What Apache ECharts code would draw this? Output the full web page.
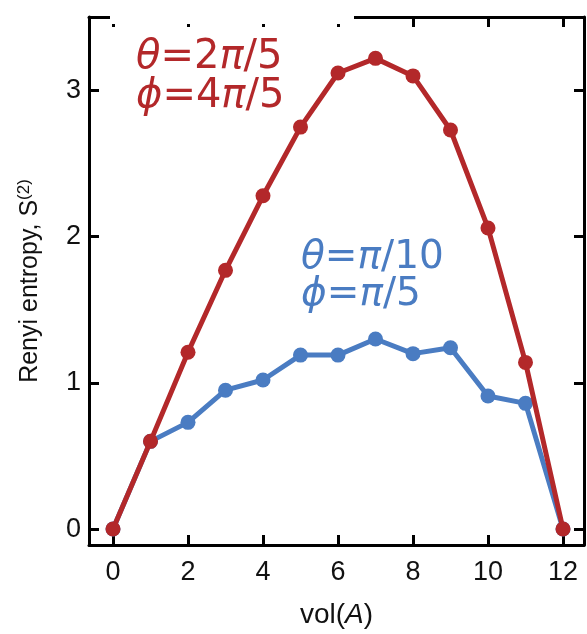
<!DOCTYPE html>
<html>
<head>
<meta charset="utf-8">
<script src="https://cdn.jsdelivr.net/npm/echarts@6/dist/echarts.min.js"></script>
<style>
  html, body { margin: 0; padding: 0; background: #fff; }
  #chart { width: 587px; height: 634px; }
</style>
</head>
<body>
<div id="chart"></div>
<script>
// vol(A) values and entropies
const vols = [0, 1, 2, 3, 4, 5, 6, 7, 8, 9, 10, 11, 12]
const redVals = [0, 0.60, 1.21, 1.77, 2.28, 2.75, 3.12, 3.22, 3.10, 2.73, 2.06, 1.14, 0]
const blueVals = [0, 0.60, 0.73, 0.95, 1.02, 1.19, 1.19, 1.30, 1.20, 1.24, 0.91, 0.86, 0]
const xTicks = [0, 2, 4, 6, 8, 10, 12]
const yTicks = [0, 1, 2, 3]

const red = '#b3282a'
const blue = '#4a7cc2'
const font = '"Liberation Sans", Arial, sans-serif'

let myChart = echarts.init(document.getElementById('chart'))

function pairs(vals) {
  return vols.map((v, i) => [v, vals[i]])
}

const axisLine = { show: true, onZero: false, lineStyle: { color: '#000', width: 3 } }
const tick = (vals) => ({ show: true, inside: true, length: 10, lineStyle: { color: '#000', width: 3 }, customValues: vals })

const options = {
  animation: false,
  grid: {
    left: 89,
    right: 3,
    top: 17,
    bottom: 86,
    show: false
  },
  xAxis: [
    {
      type: 'value',
      position: 'bottom',
      min: -0.64,
      max: 12.56,
      axisLine: axisLine,
      splitLine: { show: false },
      axisTick: tick(xTicks),
      axisLabel: { customValues: xTicks, fontSize: 27, color: '#111', fontFamily: font, margin: 14 },
      name: '{n|vol(}{i|A}{n|)}',
      nameLocation: 'middle',
      nameGap: 56,
      nameTextStyle: {
        rich: {
          n: { fontSize: 28, fontFamily: font, color: '#111' },
          i: { fontSize: 28, fontFamily: font, color: '#111', fontStyle: 'italic' }
        }
      }
    },
    {
      type: 'value',
      position: 'top',
      min: -0.64,
      max: 12.56,
      axisLine: axisLine,
      splitLine: { show: false },
      axisTick: tick(xTicks),
      axisLabel: { show: false }
    }
  ],
  yAxis: [
    {
      type: 'value',
      position: 'left',
      min: -0.109,
      max: 3.503,
      axisLine: axisLine,
      splitLine: { show: false },
      axisTick: tick(yTicks),
      axisLabel: { customValues: yTicks, fontSize: 27, color: '#111', fontFamily: font, margin: 8 },
      name: '{n|Renyi entropy, }{n|S}{s|(2)}',
      nameLocation: 'middle',
      nameRotate: 90,
      nameGap: 44,
      nameTextStyle: {
        rich: {
          n: { fontSize: 25, fontFamily: font, color: '#111' },
          s: { fontSize: 17, fontFamily: font, color: '#111', verticalAlign: 'top', padding: [0, 0, 12, 0] }
        }
      }
    },
    {
      type: 'value',
      position: 'right',
      min: -0.109,
      max: 3.503,
      axisLine: axisLine,
      splitLine: { show: false },
      axisTick: tick(yTicks),
      axisLabel: { show: false }
    }
  ],
  graphic: [
    // gap in the top frame behind the red label
    { type: 'rect', shape: { x: 110, y: 10, width: 244, height: 14 }, style: { fill: '#fff' }, z: 200 },
    {
      type: 'text', left: 136, top: 38, z: 210,
      style: {
        text: '{g|θ}{t|=2}{g|π}{t|/5}\n{g|ϕ}{t|=4}{g|π}{t|/5}',
        fill: red,
        rich: {
          t: { fontSize: 40, fontFamily: '"DejaVu Sans", sans-serif', fill: red, lineHeight: 39 },
          g: { fontSize: 40, fontFamily: '"DejaVu Sans", sans-serif', fontStyle: 'italic', fill: red, lineHeight: 39 }
        }
      }
    },
    {
      type: 'text', left: 301, top: 238, z: 210,
      style: {
        text: '{g|θ}{t|=}{g|π}{t|/10}\n{g|ϕ}{t|=}{g|π}{t|/5}',
        fill: blue,
        rich: {
          t: { fontSize: 39, fontFamily: '"DejaVu Sans", sans-serif', fill: blue, lineHeight: 37 },
          g: { fontSize: 39, fontFamily: '"DejaVu Sans", sans-serif', fontStyle: 'italic', fill: blue, lineHeight: 37 }
        }
      }
    }
  ],
  series: [
    {
      name: 'blue',
      type: 'line',
      data: pairs(blueVals),
      symbol: 'circle',
      symbolSize: 15,
      lineStyle: { color: blue, width: 5 },
      itemStyle: { color: blue },
      z: 2
    },
    {
      name: 'red',
      type: 'line',
      data: pairs(redVals),
      symbol: 'circle',
      symbolSize: 15,
      lineStyle: { color: red, width: 5 },
      itemStyle: { color: red },
      z: 3
    }
  ]
}
myChart.setOption(options)
</script>
</body>
</html>
